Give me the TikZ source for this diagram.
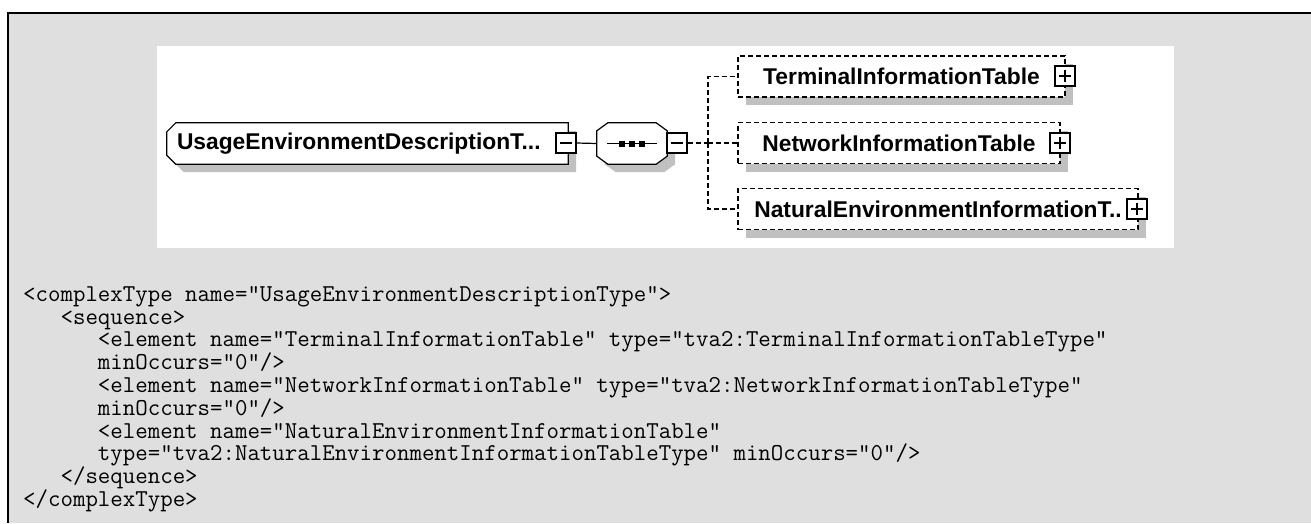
\documentclass[tikz,border=0pt]{standalone}
\usepackage{fontspec}
\newfontfamily\xsdfont{Liberation Sans}
\usetikzlibrary{shadows,backgrounds}

\definecolor{pagegray}{HTML}{DFDFDF}
\definecolor{shadegray}{HTML}{C0C0C0}

\pgfdeclarelayer{shade}
\pgfsetlayers{background,shade,main}

\tikzset{
  xsdlabel/.style={inner sep=0pt,minimum height=41pt,
    font=\xsdfont\bfseries\fontsize{22.8}{24}\selectfont},
  shadow/.style={fill=shadegray,transform canvas={xshift=8pt,yshift=-8pt}},
  outline/.style={draw,fill=white,line width=1.2pt},
  leftchamfer/.style={insert path={([xshift=9pt]#1.north west) -- (#1.north east)
    -- (#1.south east) -- ([xshift=9pt]#1.south west) -- ([yshift=9pt]#1.south west)
    -- ([yshift=-9pt]#1.north west) -- cycle}},
  octagon/.style={insert path={([xshift=11pt]#1.north west) -- ([xshift=-11pt]#1.north east)
    -- ([yshift=-8pt]#1.north east) -- ([yshift=8pt]#1.south east)
    -- ([xshift=-11pt]#1.south east) -- ([xshift=11pt]#1.south west)
    -- ([yshift=8pt]#1.south west) -- ([yshift=-8pt]#1.north west) -- cycle}},
  optbox/.style={xsdlabel,draw,fill=white,line width=1.2pt,dash pattern=on 5pt off 3pt,
    drop shadow={shadow xshift=8pt,shadow yshift=-8pt,fill=shadegray,opacity=1}},
  togglebox/.style={draw,fill=white,line width=1.2pt,minimum size=20pt,inner sep=0pt},
  minusbox/.style={togglebox,path picture={
    \draw[line width=1.2pt] ([xshift=4pt]path picture bounding box.west)
      -- ([xshift=-4pt]path picture bounding box.east);}},
  plusbox/.style={togglebox,path picture={
    \draw[line width=1.2pt] ([xshift=4pt]path picture bounding box.west)
      -- ([xshift=-4pt]path picture bounding box.east)
      ([yshift=4pt]path picture bounding box.south)
      -- ([yshift=-4pt]path picture bounding box.north);}},
  branch/.style={line width=1.2pt,dash pattern=on 5pt off 3pt},
  code/.style={inner sep=0pt,align=left,font=\ttfamily\fontsize{24.2}{22.8}\selectfont}
}

\begin{document}
\begin{tikzpicture}[x=1pt,y=-1pt]
\useasboundingbox (0,0) rectangle (1311,523);
\begin{pgfonlayer}{background}
\fill[white] (0,0) rectangle (1311,523);
\fill[pagegray] (8,13) rectangle (1311,523);
\draw[line width=2.5pt] (8,523) -- (8,13) -- (1311,13);
\fill[white] (157,46) rectangle (1174,248);
\end{pgfonlayer}

% schema diagram
\node[xsdlabel,minimum width=401pt,text width=381pt,align=left] (usage) at (367.5,143.5)
  {UsageEnvironmentDescriptionT...};
\node[xsdlabel,minimum width=70pt] (seq) at (632,143.5) {};
\begin{pgfonlayer}{shade}
\fill[shadow] [leftchamfer=usage];
\path[outline] [leftchamfer=usage];
\fill[shadow] [octagon=seq];
\path[outline] [octagon=seq];
\end{pgfonlayer}
\node[minusbox] (usagetog) at (566,143) {};
\node[minusbox] (seqtog) at (677,143) {};
\draw[line width=1.2pt] ([xshift=-25pt]seq.center) -- ([xshift=25pt]seq.center);
\foreach \dx in {-10,0,10}
  \fill ([xshift=\dx pt]seq.center) +(-3,-3) rectangle +(3,3);

\node[optbox,minimum width=327pt] (term) at (901.5,76.5) {TerminalInformationTable};
\node[plusbox] (termtog) at (1065,76) {};
\node[optbox,minimum width=322pt] (net) at (899,143) {NetworkInformationTable};
\node[plusbox] (nettog) at (1060,143) {};
\node[optbox,minimum width=400pt] (nat) at (938,209) {NaturalEnvironmentInformationT..};
\node[plusbox] (nattog) at (1137,209) {};

\draw[line width=1.2pt] (usagetog.east) -- (seq.west);
\coordinate (fork) at (708,143);
\draw[branch] (seqtog.east) -- (fork);
\draw[branch] (fork) |- (term.west);
\draw[branch] (fork) -- (net.west);
\draw[branch] (fork) |- (nat.west);

% schema source
\node[code,anchor=north west] (xsdcode) at (23,286) {<complexType name="UsageEnvironmentDescriptionType">\\
~~~<sequence>\\
~~~~~~<element name="TerminalInformationTable" type="tva2:TerminalInformationTableType"\\
~~~~~~minOccurs="0"/>\\
~~~~~~<element name="NetworkInformationTable" type="tva2:NetworkInformationTableType"\\
~~~~~~minOccurs="0"/>\\
~~~~~~<element name="NaturalEnvironmentInformationTable"\\
~~~~~~type="tva2:NaturalEnvironmentInformationTableType" minOccurs="0"/>\\
~~~</sequence>\\
</complexType>};
\end{tikzpicture}
\end{document}
